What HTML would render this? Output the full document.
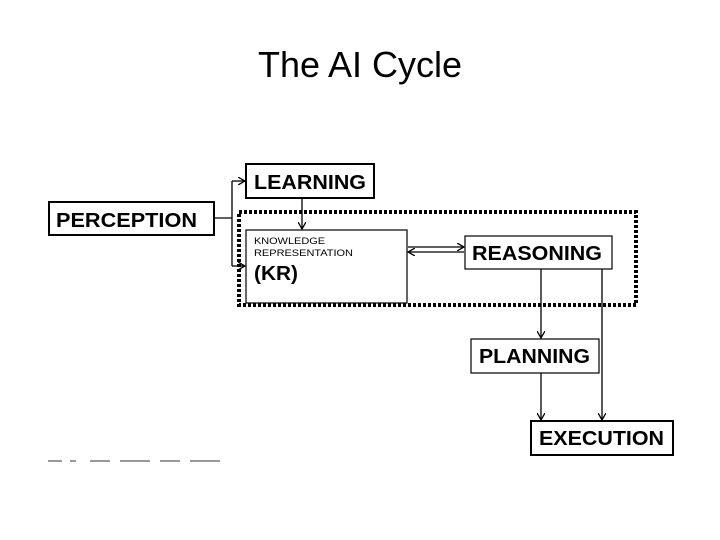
<!DOCTYPE html>
<html><head><style>
body{margin:0;width:720px;height:540px;background:#fff;position:relative;overflow:hidden;font-family:"Liberation Sans",Arial,sans-serif}
.t{position:absolute;left:0;width:720px;top:44px;text-align:center;font-size:36px;color:#000}
</style></head><body>
<div class="t">The AI Cycle</div>
<svg width="720" height="540" style="position:absolute;left:0;top:0">
<defs><marker id="a" markerWidth="8" markerHeight="8" refX="7" refY="4" orient="auto" markerUnits="userSpaceOnUse"><path d="M0,0 L7,4 L0,8" fill="none" stroke="#000" stroke-width="1.3"/></marker></defs>
<g font-family="Liberation Sans, Arial, sans-serif" font-weight="bold" fill="#000">
<rect x="239" y="212" width="397" height="93" fill="none" stroke="#000" stroke-width="4" stroke-dasharray="3,2"/>
<rect x="49" y="202" width="165" height="33" fill="#fff" stroke="#000" stroke-width="2"/>
<text x="56" y="227" font-size="20" textLength="141" lengthAdjust="spacingAndGlyphs">PERCEPTION</text>
<rect x="246" y="164" width="128" height="34" fill="#fff" stroke="#000" stroke-width="2"/>
<text x="254" y="189" font-size="20" textLength="112" lengthAdjust="spacingAndGlyphs">LEARNING</text>
<rect x="246" y="230" width="161" height="73" fill="#fff" stroke="#000" stroke-width="1.2"/>
<text x="254" y="244" font-size="9" font-weight="normal" textLength="71" lengthAdjust="spacingAndGlyphs">KNOWLEDGE</text>
<text x="254" y="256" font-size="9" font-weight="normal" textLength="99" lengthAdjust="spacingAndGlyphs">REPRESENTATION</text>
<text x="254" y="280" font-size="20" textLength="44" lengthAdjust="spacingAndGlyphs">(KR)</text>
<rect x="465" y="236" width="147" height="33" fill="#fff" stroke="#000" stroke-width="1.2"/>
<text x="472" y="260" font-size="20" textLength="130" lengthAdjust="spacingAndGlyphs">REASONING</text>
<rect x="471" y="339" width="128" height="34" fill="#fff" stroke="#000" stroke-width="1.2"/>
<text x="479" y="363" font-size="20" textLength="111" lengthAdjust="spacingAndGlyphs">PLANNING</text>
<rect x="531" y="421" width="142" height="34" fill="#fff" stroke="#000" stroke-width="2"/>
<text x="539" y="445" font-size="20" textLength="125" lengthAdjust="spacingAndGlyphs">EXECUTION</text>
</g>
<g stroke="#000" stroke-width="1.3" fill="none">
<path d="M214,218 H232"/>
<path d="M232,181 V266"/>
<path d="M232,181 H245" marker-end="url(#a)"/>
<path d="M232,266 H245" marker-end="url(#a)"/>
<path d="M302,198 V229" marker-end="url(#a)"/>
<path d="M408,247 H464" marker-end="url(#a)"/>
<path d="M464,252 H408" marker-end="url(#a)"/>
<path d="M541,269 V338" marker-end="url(#a)"/>
<path d="M602,269 V420" marker-end="url(#a)"/>
<path d="M541,373 V420" marker-end="url(#a)"/>
</g>
<g fill="#999"><rect x="48" y="460" width="14" height="2"/><rect x="70" y="460" width="6" height="2"/><rect x="90" y="460" width="20" height="2"/><rect x="120" y="460" width="30" height="2"/><rect x="160" y="460" width="20" height="2"/><rect x="190" y="460" width="30" height="2"/></g>
</svg>
</body></html>
